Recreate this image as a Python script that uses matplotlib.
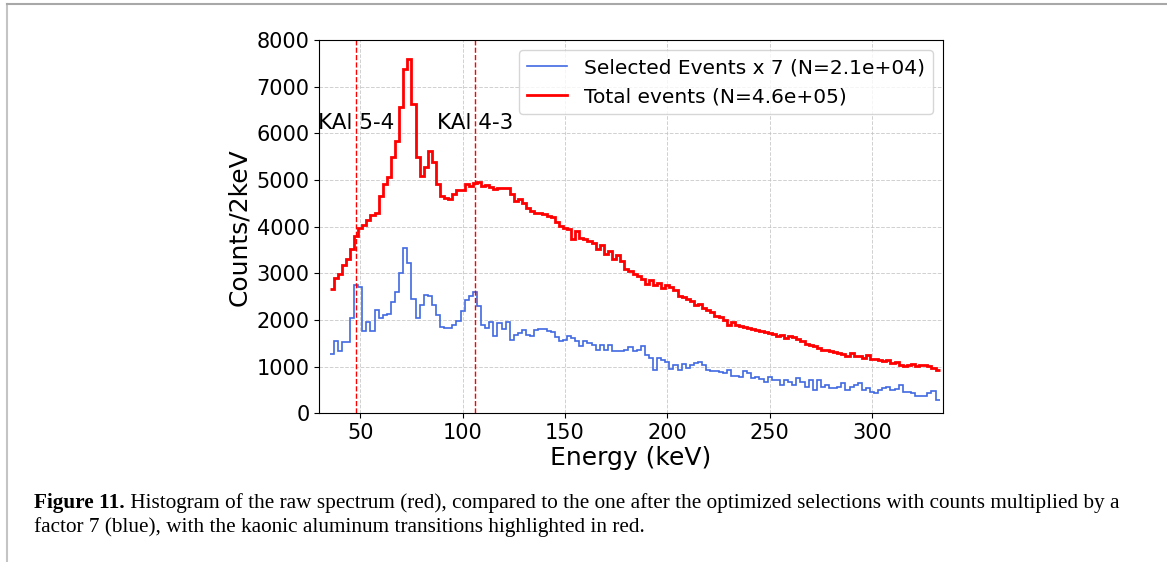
import numpy as np
import matplotlib
matplotlib.use("Agg")
import matplotlib.pyplot as plt
from matplotlib.lines import Line2D

# 2 keV bins from 35 to 333 keV
bin_edges = np.arange(35, 334, 2)

total_counts = [
    2667, 2904, 2975, 3169, 3298, 3513, 3800, 3979, 4029, 4137,
    4245, 4288, 4660, 4911, 5055, 5485, 5844, 6560, 7385, 7600,
    6632, 5485, 5091, 5270, 5614, 5378, 4911, 4660, 4624, 4603,
    4696, 4789, 4789, 4911, 4876, 4933, 4962, 4876, 4890, 4840,
    4804, 4825, 4825, 4825, 4696, 4553, 4589, 4517, 4409, 4338,
    4302, 4288, 4266, 4230, 4200, 4110, 4014, 3979, 3943, 3728,
    3907, 3764, 3728, 3692, 3642, 3513, 3599, 3406, 3470, 3298,
    3384, 3262, 3097, 3047, 2975, 2939, 2868, 2775, 2853, 2760,
    2796, 2689, 2760, 2710, 2638, 2524, 2495, 2452, 2402, 2330,
    2352, 2258, 2208, 2165, 2094, 2065, 2008, 1900, 1950, 1900,
    1879, 1850, 1821, 1807, 1778, 1757, 1742, 1721, 1699, 1649,
    1685, 1613, 1663, 1635, 1592, 1560, 1491, 1470, 1448, 1398,
    1362, 1348, 1326, 1305, 1290, 1276, 1233, 1290, 1233, 1219,
    1183, 1254, 1161, 1161, 1133, 1111, 1133, 1075, 1090, 1040,
    1018, 1040, 1061, 1004, 1040, 1032, 1018, 968, 932,
]

selected_x7 = [
    1276, 1541, 1326, 1520, 1520, 2043, 2746, 2710, 1757, 1950,
    1757, 2208, 2043, 2115, 2137, 2380, 2596, 3011, 3549, 3226,
    2452, 2043, 2330, 2545, 2524, 2316, 2100, 1850, 1828, 1828,
    1900, 1972, 2187, 2423, 2510, 2596, 2294, 1900, 1828, 1950,
    1649, 1936, 1807, 1950, 1577, 1685, 1721, 1778, 1685, 1663,
    1778, 1807, 1807, 1757, 1750, 1640, 1556, 1577, 1663, 1613,
    1541, 1434, 1541, 1505, 1470, 1362, 1470, 1362, 1470, 1326,
    1326, 1326, 1362, 1420, 1326, 1362, 1448, 1254, 1183, 932,
    1183, 1147, 1090, 946, 1040, 932, 1061, 968, 1040, 1075,
    1090, 1040, 918, 896, 896, 875, 860, 932, 789, 803,
    774, 896, 860, 753, 774, 731, 681, 774, 717, 703,
    609, 717, 681, 609, 753, 680, 574, 703, 502, 717,
    574, 609, 538, 552, 574, 645, 502, 574, 609, 645,
    502, 538, 466, 444, 502, 538, 574, 502, 516, 609,
    466, 459, 444, 373, 373, 373, 444, 487, 287,
]

transition_energies = [48.0, 106.1]
transition_labels = ["KAl 5-4", "KAl 4-3"]

label_selected = "Selected Events x 7 (N=2.1e+04)"
label_total = "Total events (N=4.6e+05)"

caption_bold = "Figure 11."
caption_line1 = (" Histogram of the raw spectrum (red), compared to the one after the "
                 "optimized selections with counts multiplied by a")
caption_line2 = ("factor 7 (blue), with the kaonic aluminum transitions highlighted in red.")

W, H = 1167, 562
fig = plt.figure(figsize=(W / 100, H / 100), dpi=100)
fig.patch.set_facecolor("white")

ax = fig.add_axes([319.3 / W, 1 - 413.3 / H, 623.4 / W, 373.3 / H])

ax.stairs(selected_x7, bin_edges, baseline=None, color="royalblue", linewidth=1.2,
          label=label_selected)
ax.stairs(total_counts, bin_edges, baseline=None, color="red", linewidth=2.0,
          label=label_total)

for e, lab in zip(transition_energies, transition_labels):
    ax.axvline(e, color="red", linestyle="--", linewidth=1.0)
    ax.text(e, 6000, lab, ha="center", va="bottom", fontsize=15.5)

ax.set_xlim(30, 334.5)
ax.set_ylim(0, 8000)
ax.set_xticks([50, 100, 150, 200, 250, 300])
ax.set_yticks(np.arange(0, 8001, 1000))
ax.tick_params(labelsize=15)
ax.grid(True, linestyle="--", color="#c4c4c4", linewidth=0.7, alpha=0.8)
ax.set_axisbelow(True)
ax.set_xlabel("Energy (keV)", fontsize=18, labelpad=2)
ax.set_ylabel("Counts/2keV", fontsize=18)

handles = [Line2D([], [], color="royalblue", linewidth=1.2),
           Line2D([], [], color="red", linewidth=2.0)]
ax.legend(handles, [label_selected, label_total], loc="upper right", fontsize=14.5)

# page frame around the figure
fig.add_artist(Line2D([7 / W, 7 / W], [0, 1 - 4 / H], color="#c4c4c4", linewidth=1.5))
fig.add_artist(Line2D([7 / W, 1], [1 - 4 / H, 1 - 4 / H], color="#a8a8a8", linewidth=1.5))

# caption
cap_size = 15.3
t = fig.text(34 / W, 1 - 503 / H, caption_bold, fontsize=cap_size, fontweight="bold",
             family="Liberation Serif", va="center", ha="left")
fig.canvas.draw()
bb = t.get_window_extent()
fig.text(bb.x1 / W, 1 - 503 / H, caption_line1, fontsize=cap_size,
         family="Liberation Serif", va="center", ha="left")
fig.text(34 / W, 1 - 527 / H, caption_line2, fontsize=cap_size,
         family="Liberation Serif", va="center", ha="left")

fig.savefig("out.png", dpi=100)
